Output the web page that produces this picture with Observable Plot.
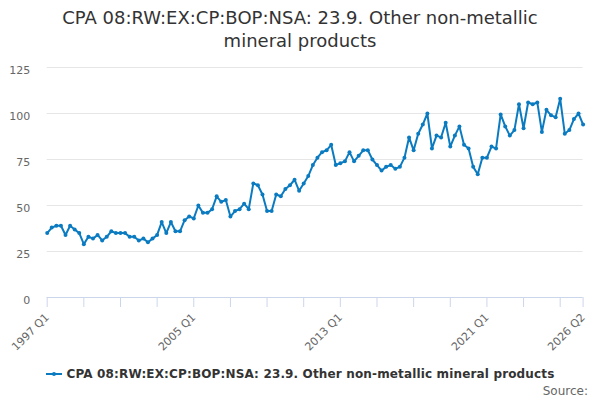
<!DOCTYPE html>
<html>
<head>
<meta charset="utf-8">
<script src="https://cdn.jsdelivr.net/npm/d3@7"></script>
<script src="https://cdn.jsdelivr.net/npm/@observablehq/plot@0.6"></script>
<style>
  body { margin: 0; background: #fff; font-family: "DejaVu Sans", sans-serif; }
  #wrap { position: relative; width: 600px; height: 400px; overflow: hidden; }
  #title { position: absolute; top: 6px; left: 0; width: 600px; text-align: center;
           font-size: 18px; line-height: 23px; color: #333; }
  #chart { position: absolute; top: 55px; left: 0; }
  #legend { position: absolute; top: 367px; left: 0; width: 600px; text-align: center;
            font-size: 12px; font-weight: bold; color: #333; letter-spacing: 0.15px; }
  #legend .key { display: inline-block; position: relative; width: 16px; height: 10px; margin-right: 5px; vertical-align: -1px; }
  #legend .key .ln { position: absolute; left: 0; top: 4px; width: 16px; height: 2px; background: #0b7bc1; }
  #legend .key .pt { position: absolute; left: 6px; top: 3px; width: 4px; height: 4px; border-radius: 2px; background: #0b7bc1; }
  #source { position: absolute; top: 384px; right: 12px; font-size: 12px; color: #666; }
</style>
</head>
<body>
<div id="wrap">
  <div id="title">CPA 08:RW:EX:CP:BOP:NSA: 23.9. Other non-metallic<br>mineral products</div>
  <div id="chart"></div>
  <div id="legend"><span class="key"><span class="ln"></span><span class="pt"></span></span>CPA 08:RW:EX:CP:BOP:NSA: 23.9. Other non-metallic mineral products</div>
  <div id="source">Source:</div>
</div>
<script>
const seriesName = "CPA 08:RW:EX:CP:BOP:NSA: 23.9. Other non-metallic mineral products";
const startYear = 1997;
const values = [
  35, 38, 39, 39, 34, 39, 37, 35, 29, 33, 32, 34, 31, 33, 36, 35, 35, 35, 33, 33,
  31, 32, 30, 32, 34, 41, 35, 41, 36, 36, 42, 44, 43, 50, 46, 46, 48, 55, 52, 53,
  44, 47, 48, 51, 48, 62, 61, 56, 47, 47, 56, 55, 59, 61, 64, 58, 62, 66, 72, 76,
  79, 80, 83, 72, 73, 74, 79, 74, 77, 80, 80, 75, 72, 69, 71, 72, 70, 71, 76, 87,
  80, 89, 94, 100, 81, 88, 87, 95, 82, 88, 93, 83, 81, 71, 67, 76, 76, 82, 81, 99.5,
  93, 88, 91, 105, 92, 106, 105, 106, 90, 102, 99, 98, 108, 89, 91, 97, 100, 94
];
const yTicks = [0, 25, 50, 75, 100, 125];
const xTickIdx = [0, 8, 16, 24, 32, 40, 48, 56, 64, 72, 80, 88, 96, 104, 112, 117];
const xLabelIdx = [0, 32, 64, 96, 117];

const quarterLabel = i => `${startYear + Math.floor(i / 4)} Q${(i % 4) + 1}`;
const data = values.map((v, i) => ({ i, v, label: quarterLabel(i) }));
const color = "#0b7bc1";

const chart = Plot.plot({
  width: 600,
  height: 300,
  marginLeft: 46.7,
  marginRight: 17.4,
  marginTop: 12,
  marginBottom: 58,
  style: { fontFamily: "DejaVu Sans", fontSize: "11px", background: "transparent" },
  x: { type: "linear", domain: [0, values.length - 1] },
  y: { domain: [0, 125] },
  marks: [
    Plot.ruleY(yTicks.filter(t => t > 0), { stroke: "#e6e6e6", strokeWidth: 1 }),
    Plot.axisY(yTicks, { tickSize: 0, tickPadding: 17, fill: "#666", dy: 3, label: null }),
    Plot.axisX(xTickIdx, {
      tickSize: 10, stroke: "#ccd6eb", fill: "#666", tickPadding: 8, tickRotate: -45,
      tickFormat: i => xLabelIdx.includes(i) ? quarterLabel(i) : "", label: null
    }),
    Plot.ruleY([0], { stroke: "#ccd6eb", strokeWidth: 1 }),
    Plot.line(data, { x: "i", y: "v", stroke: color, strokeWidth: 2 }),
    Plot.dot(data, { x: "i", y: "v", r: 2, fill: color, stroke: "none" })
  ]
});
document.getElementById("chart").appendChild(chart);
</script>
</body>
</html>
